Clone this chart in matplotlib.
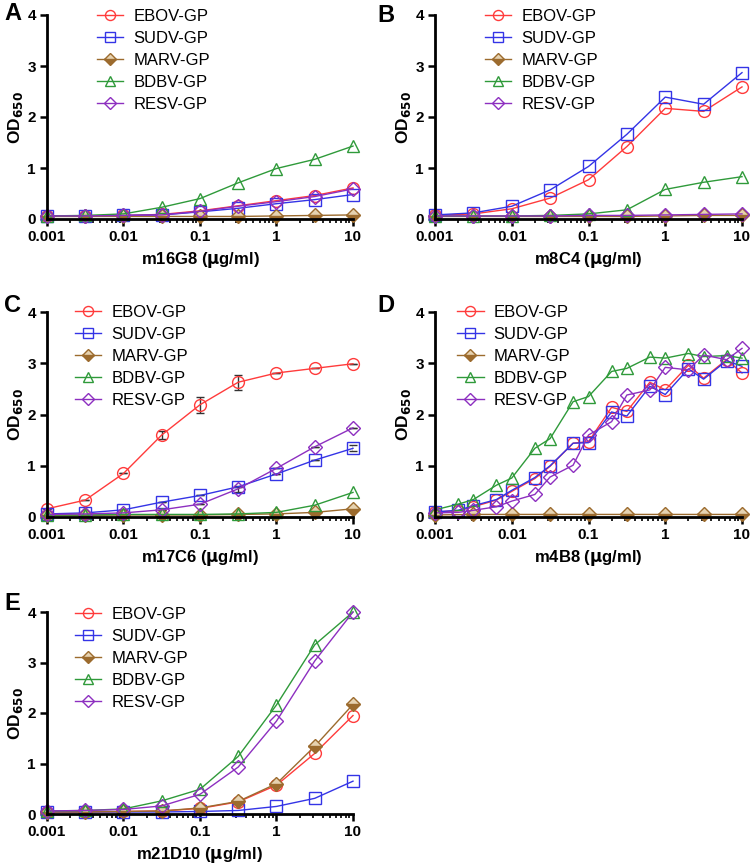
import numpy as np
import matplotlib
matplotlib.use("Agg")
import matplotlib.pyplot as plt
from matplotlib.ticker import LogLocator, NullFormatter, FixedLocator

plt.rcParams['font.family'] = ['Liberation Sans', 'DejaVu Sans']

# x values (ug/ml)
x_half = [0.001, 0.00316, 0.01, 0.0316, 0.1, 0.316, 1, 3.16, 10]
x_d = [0.001, 0.002, 0.00316, 0.0063, 0.01, 0.02, 0.0316, 0.063, 0.1,
       0.2, 0.316, 0.63, 1, 2, 3.16, 6.3, 10]

series_names = ["EBOV-GP", "SUDV-GP", "MARV-GP", "BDBV-GP", "RESV-GP"]

# panel A: m16G8
a_ebov = [0.06, 0.06, 0.07, 0.09, 0.16, 0.26, 0.36, 0.46, 0.61]
a_sudv = [0.06, 0.06, 0.07, 0.08, 0.14, 0.21, 0.30, 0.38, 0.48]
a_marv = [0.05, 0.05, 0.05, 0.05, 0.05, 0.05, 0.06, 0.07, 0.08]
a_bdbv = [0.06, 0.07, 0.10, 0.23, 0.40, 0.71, 0.99, 1.17, 1.43]
a_resv = [0.06, 0.06, 0.07, 0.08, 0.15, 0.25, 0.34, 0.44, 0.59]

# panel B: m8C4
b_ebov = [0.07, 0.10, 0.20, 0.41, 0.77, 1.42, 2.17, 2.11, 2.59]
b_sudv = [0.08, 0.12, 0.25, 0.57, 1.03, 1.66, 2.39, 2.25, 2.87]
b_marv = [0.05, 0.05, 0.05, 0.05, 0.05, 0.05, 0.06, 0.07, 0.07]
b_bdbv = [0.06, 0.06, 0.06, 0.07, 0.10, 0.18, 0.58, 0.72, 0.83]
b_resv = [0.06, 0.06, 0.06, 0.06, 0.07, 0.07, 0.08, 0.09, 0.10]

# panel C: m17C6
c_ebov = [0.16, 0.33, 0.85, 1.60, 2.19, 2.63, 2.81, 2.90, 2.99]
c_ebov_err = [0.0, 0.0, 0.0, 0.08, 0.16, 0.15, 0.0, 0.0, 0.0]
c_sudv = [0.06, 0.08, 0.14, 0.29, 0.42, 0.59, 0.84, 1.11, 1.34]
c_sudv_err = [0.0, 0.0, 0.0, 0.0, 0.0, 0.0, 0.0, 0.0, 0.06]
c_marv = [0.03, 0.03, 0.04, 0.04, 0.04, 0.05, 0.06, 0.09, 0.16]
c_bdbv = [0.04, 0.04, 0.05, 0.05, 0.05, 0.06, 0.09, 0.23, 0.48]
c_resv = [0.05, 0.06, 0.08, 0.14, 0.25, 0.55, 0.95, 1.37, 1.74]
c_resv_err = [0.0, 0.0, 0.0, 0.0, 0.0, 0.06, 0.0, 0.0, 0.0]

# panel D: m4B8 (MARV only at half-log points)
d_ebov = [0.10, 0.12, 0.20, 0.33, 0.50, 0.75, 0.99, 1.44, 1.47, 2.14, 2.06,
          2.63, 2.48, 2.96, 2.71, 3.07, 2.81]
d_sudv = [0.10, 0.13, 0.22, 0.34, 0.52, 0.77, 1.00, 1.44, 1.45, 2.05, 1.97,
          2.55, 2.39, 2.89, 2.69, 3.05, 2.94]
d_marv = [0.04, 0.05, 0.05, 0.05, 0.05, 0.05, 0.05, 0.05, 0.05]
d_bdbv = [0.14, 0.25, 0.34, 0.62, 0.76, 1.34, 1.53, 2.25, 2.35, 2.84, 2.90,
          3.12, 3.10, 3.19, 3.13, 3.15, 3.10]
d_resv = [0.08, 0.09, 0.13, 0.20, 0.31, 0.44, 0.78, 1.01, 1.60, 1.86, 2.38,
          2.48, 2.92, 2.87, 3.16, 3.07, 3.29]

# panel E: m21D10
e_ebov = [0.04, 0.04, 0.05, 0.06, 0.11, 0.24, 0.57, 1.20, 1.95]
e_sudv = [0.04, 0.04, 0.04, 0.04, 0.05, 0.07, 0.15, 0.31, 0.65]
e_marv = [0.04, 0.04, 0.05, 0.06, 0.12, 0.25, 0.60, 1.34, 2.17]
e_bdbv = [0.06, 0.07, 0.10, 0.26, 0.49, 1.14, 2.16, 3.35, 4.00]
e_resv = [0.06, 0.07, 0.09, 0.16, 0.39, 0.93, 1.84, 3.03, 4.00]

colors = {"EBOV-GP": "#ff3b3b", "SUDV-GP": "#3434e6", "MARV-GP": "#9c6b2e",
          "BDBV-GP": "#2f9a3a", "RESV-GP": "#8d2fc0"}
markers = {"EBOV-GP": "o", "SUDV-GP": "s", "MARV-GP": "D",
           "BDBV-GP": "^", "RESV-GP": "D"}
msizes = {"EBOV-GP": 8.5, "SUDV-GP": 8, "MARV-GP": 7.5, "BDBV-GP": 9, "RESV-GP": 7.5}

W, H = 750, 868
fig = plt.figure(figsize=(7.5, 8.68), dpi=100)


def make_ax(left, top, right, bottom):
    return fig.add_axes([left / W, 1 - bottom / H, (right - left) / W, (bottom - top) / H])


def draw_panel(ax, xs, data, errs, xlabel, leg_x, leg_y):
    for name in series_names:
        x = xs[name]
        y = data[name]
        c = colors[name]
        kw = dict(color=c, lw=1.0, marker=markers[name], ms=msizes[name],
                  mec=c, mew=1.0, label=name)
        if name == "MARV-GP":
            kw.update(mfc=c, fillstyle='bottom', mfcalt='#e6d2b0')
        else:
            kw.update(mfc='none')
        ax.plot(x, y, **kw)
        if name in errs:
            ax.errorbar(x, y, yerr=errs[name], fmt='none', ecolor='#333333',
                        elinewidth=1.0, capsize=3, capthick=1.0, zorder=1)
    ax.set_xscale('log')
    ax.set_xlim(0.001, 10)
    ax.set_ylim(0, 4)
    ax.set_yticks([0, 1, 2, 3, 4])
    ax.xaxis.set_major_locator(FixedLocator([0.001, 0.01, 0.1, 1, 10]))
    ax.set_xticklabels(["0.001", "0.01", "0.1", "1", "10"])
    ax.xaxis.set_minor_locator(LogLocator(base=10, subs=np.arange(2, 10)))
    ax.xaxis.set_minor_formatter(NullFormatter())
    for s in ['top', 'right']:
        ax.spines[s].set_visible(False)
    for s in ['left', 'bottom']:
        ax.spines[s].set_linewidth(2.0)
    ax.tick_params(axis='both', which='major', direction='out', length=5,
                   width=1.8, labelsize=11, pad=3)
    ax.tick_params(axis='x', which='minor', direction='out', length=3, width=1.2)
    for lab in ax.get_xticklabels() + ax.get_yticklabels():
        lab.set_fontweight('bold')
    ax.set_xlabel(xlabel, fontsize=12, fontweight='bold', labelpad=4)
    ax.set_ylabel(r"OD$_{\mathbf{650}}$", fontsize=12.5, fontweight='bold', labelpad=2)
    handles = [l for l in ax.get_lines() if l.get_label() in series_names]
    ax.legend(handles, series_names, loc='upper left', bbox_to_anchor=(leg_x, leg_y),
              frameon=False, fontsize=12, labelspacing=0.42, handlelength=1.6,
              handletextpad=0.6, borderaxespad=0, markerscale=0.85)
    for line in ax.get_lines():
        line.set_clip_on(False)


def panel_data(e, s, m, b, r):
    return dict(zip(series_names, [e, s, m, b, r]))


half_x = dict((n, x_half) for n in series_names)
d_xs = dict((n, x_d) for n in series_names)
d_xs["MARV-GP"] = x_half

axA = make_ax(47, 15, 353, 219)
draw_panel(axA, half_x, panel_data(a_ebov, a_sudv, a_marv, a_bdbv, a_resv), {},
           r"m16G8 ($\mathbf{\mu}$g/ml)", 0.14, 1.062)
axB = make_ax(435, 15, 742, 219)
draw_panel(axB, half_x, panel_data(b_ebov, b_sudv, b_marv, b_bdbv, b_resv), {},
           r"m8C4 ($\mathbf{\mu}$g/ml)", 0.14, 1.062)
axC = make_ax(47, 312, 353, 517)
draw_panel(axC, half_x, panel_data(c_ebov, c_sudv, c_marv, c_bdbv, c_resv),
           {"EBOV-GP": c_ebov_err, "SUDV-GP": c_sudv_err, "RESV-GP": c_resv_err},
           r"m17C6 ($\mathbf{\mu}$g/ml)", 0.069, 1.068)
axD = make_ax(435, 312, 742, 517)
draw_panel(axD, d_xs, panel_data(d_ebov, d_sudv, d_marv, d_bdbv, d_resv), {},
           r"m4B8 ($\mathbf{\mu}$g/ml)", 0.05, 1.068)
axE = make_ax(47, 612, 353, 814)
draw_panel(axE, half_x, panel_data(e_ebov, e_sudv, e_marv, e_bdbv, e_resv), {},
           r"m21D10 ($\mathbf{\mu}$g/ml)", 0.069, 1.06)

for letter, px, py in [("A", 4, 14), ("B", 377, 16), ("C", 4, 306), ("D", 377, 306), ("E", 4, 603)]:
    fig.text(px / W, 1 - py / H, letter, fontsize=17, fontweight='bold', va='center', ha='left')

fig.savefig("out.png", dpi=100)
